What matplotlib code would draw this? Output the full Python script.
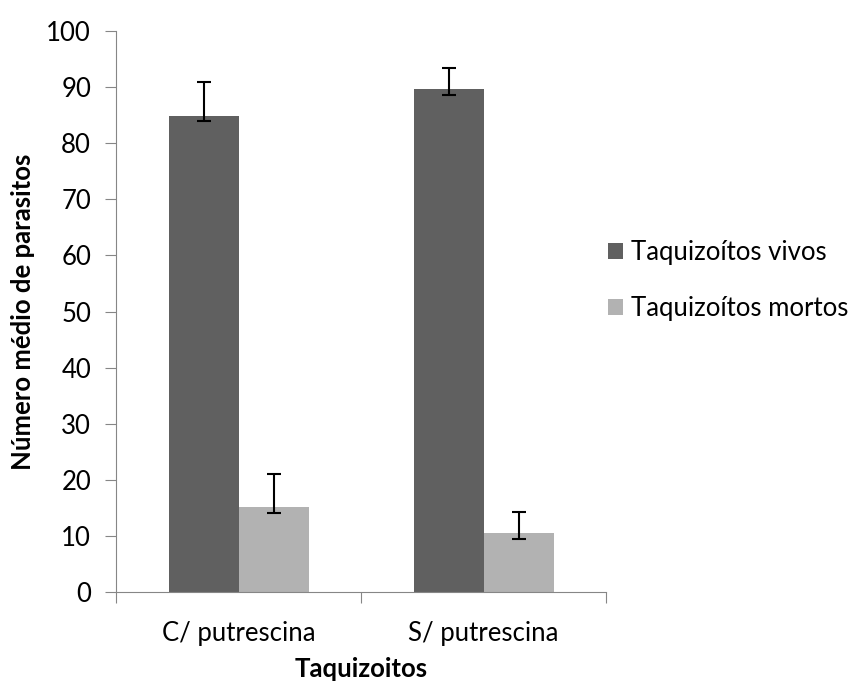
import matplotlib.pyplot as plt
import numpy as np

# data
categories = ['C/ putrescina', 'S/ putrescina']
series = ['Taquizoítos vivos', 'Taquizoítos mortos']
vivos = [84.9, 89.6]
mortos = [15.1, 10.5]
vivos_err_low = [0.9, 1.0]
vivos_err_high = [6.0, 3.9]
mortos_err_low = [1.0, 1.1]
mortos_err_high = [5.9, 3.8]
yticks = list(range(0, 101, 10))

plt.rcParams['font.family'] = ['Lato', 'DejaVu Sans']
fs = 18.5

fig = plt.figure(figsize=(8.66, 6.84), dpi=100)
ax = fig.add_axes([0.134, 0.1345, 0.566, 0.82])

x = np.arange(len(categories))
w = 1 / 3.5
err_kw = dict(ecolor='black', elinewidth=1.5, capsize=5, capthick=1.5)
ax.bar(x - w / 2, vivos, w, color='#606060', label=series[0],
       yerr=[vivos_err_low, vivos_err_high], error_kw=err_kw)
ax.bar(x + w / 2, mortos, w, color='#b2b2b2', label=series[1],
       yerr=[mortos_err_low, mortos_err_high], error_kw=err_kw)

ax.set_xlim(-0.5, len(categories) - 0.5)
ax.set_ylim(0, 100)
ax.set_yticks(yticks)
ax.tick_params(axis='y', labelsize=fs, length=8, color='#868686', pad=10)

# category boundaries as major ticks, names as minor ticks
ax.set_xticks([-0.5, 0.5, 1.5])
ax.set_xticklabels(['', '', ''])
ax.set_xticks(x, minor=True)
ax.set_xticklabels(categories, minor=True)
ax.tick_params(axis='x', which='major', length=8, color='#868686')
ax.tick_params(axis='x', which='minor', length=0, labelsize=fs, pad=21)

for s in ['top', 'right']:
    ax.spines[s].set_visible(False)
for s in ['left', 'bottom']:
    ax.spines[s].set_color('#868686')

ax.set_ylabel('Número médio de parasitos', fontsize=fs, fontweight='bold', labelpad=8)
ax.set_xlabel('Taquizoitos', fontsize=fs, fontweight='bold', labelpad=8)

ax.legend(loc='upper left', bbox_to_anchor=(0.693, 0.66), bbox_transform=fig.transFigure,
          frameon=False, fontsize=fs, handlelength=0.6, handleheight=0.6,
          handletextpad=0.3, labelspacing=1.2, borderaxespad=0, borderpad=0.3)

plt.savefig('out.png', dpi=100)
